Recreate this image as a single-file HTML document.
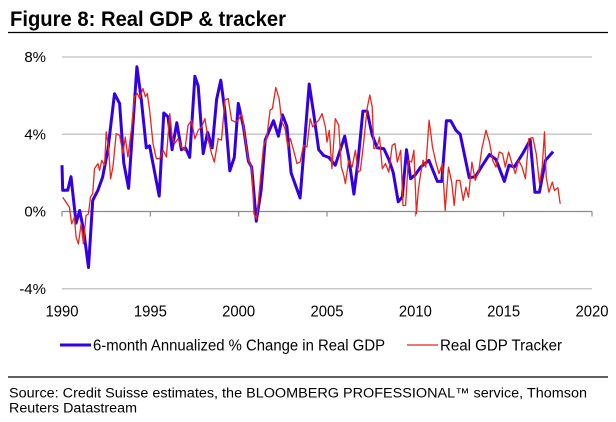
<!DOCTYPE html>
<html><head><meta charset="utf-8"><style>
html,body{margin:0;padding:0;background:#fff;}
svg{display:block;font-family:"Liberation Sans",Arial,sans-serif;}
</style></head><body>
<svg id="chart" width="616" height="422" viewBox="0 0 616 422" xmlns="http://www.w3.org/2000/svg">
<text x="10" y="26" font-size="21" font-weight="bold" textLength="276" lengthAdjust="spacingAndGlyphs">Figure 8: Real GDP &amp; tracker</text>
<line x1="8" y1="32.5" x2="608" y2="32.5" stroke="#000" stroke-width="1.2"/>
<g id="grid"></g>
<g id="yaxis"></g>
<g id="xaxis"></g>
<g id="series"></g>
<g>
<g>
<line x1="60" y1="345" x2="91" y2="345" stroke="#3300e6" stroke-width="3"/>
<text x="93" y="350.5" font-size="15.5" textLength="292" lengthAdjust="spacingAndGlyphs">6-month Annualized % Change in Real GDP</text>
</g>
<g>
<line x1="407" y1="345" x2="438" y2="345" stroke="#e8261c" stroke-width="1.3"/>
<text x="440" y="350.5" font-size="15.5" textLength="122" lengthAdjust="spacingAndGlyphs">Real GDP Tracker</text>
</g>
</g>
<line x1="8" y1="377" x2="608" y2="377" stroke="#000" stroke-width="1.2"/>
<text x="9" y="397.5" font-size="13.5" textLength="578" lengthAdjust="spacingAndGlyphs">Source: Credit Suisse estimates, the BLOOMBERG PROFESSIONAL™ service, Thomson</text>
<text x="9" y="412.5" font-size="13.5" textLength="128" lengthAdjust="spacingAndGlyphs">Reuters Datastream</text>
</svg>
<script>
const yTicks=[8,4,0,-4];
const yTickLabels=["8%","4%","0%","-4%"];
const xTicks=[1990,1995,2000,2005,2010,2015,2020];
const gdpYears=[1990.0,1990.04,1990.32,1990.51,1990.8,1991.0,1991.23,1991.5,1991.74,1992.03,1992.3,1992.6,1992.97,1993.26,1993.5,1993.77,1994.24,1994.49,1994.77,1994.96,1995.5,1995.76,1996.0,1996.23,1996.5,1996.76,1996.99,1997.23,1997.52,1997.71,1997.99,1998.24,1998.5,1998.75,1998.99,1999.22,1999.5,1999.75,1999.98,2000.27,2000.55,2000.74,2001.0,2001.27,2001.5,2001.97,2002.25,2002.48,2002.73,2002.97,2003.48,2003.99,2004.24,2004.53,2004.81,2005.1,2005.47,2006.0,2006.23,2006.52,2006.76,2007.03,2007.27,2007.56,2007.84,2008.22,2008.5,2008.75,2009.03,2009.26,2009.5,2009.73,2010.0,2010.3,2010.77,2011.25,2011.5,2011.76,2012.0,2012.3,2012.54,2013.05,2013.4,2013.8,2014.2,2014.56,2015.04,2015.3,2015.6,2016.08,2016.5,2016.77,2017.02,2017.37,2017.8];
const gdpValues=[2.4,1.1,1.1,1.8,-0.6,0.05,-1.0,-2.9,0.57,1.1,1.77,3.2,6.1,5.6,2.5,1.2,7.5,5.8,3.3,3.4,0.8,5.1,4.9,3.2,4.6,3.2,3.3,2.8,7.0,6.5,3.0,4.1,3.3,5.8,6.8,5.2,2.1,2.8,5.6,4.4,2.6,2.3,-0.5,1.1,3.7,4.7,3.9,5.0,4.4,2.0,0.7,6.6,5.1,3.2,2.9,2.8,2.4,3.9,2.8,0.9,2.65,5.2,5.2,3.95,3.3,3.25,2.7,2.0,0.5,0.75,3.2,1.7,1.9,2.3,2.65,1.56,1.56,4.7,4.7,4.2,4.0,1.75,1.8,2.4,2.95,2.7,1.56,2.4,2.3,3.0,3.7,1.0,1.0,2.65,3.1];
const trackerYears=[1990.04,1990.23,1990.42,1990.55,1990.70,1990.80,1990.93,1991.08,1991.21,1991.36,1991.50,1991.61,1991.74,1991.84,1992.03,1992.12,1992.25,1992.41,1992.50,1992.63,1992.75,1992.88,1993.07,1993.26,1993.45,1993.58,1993.73,1993.92,1994.11,1994.26,1994.39,1994.58,1994.72,1994.83,1994.96,1995.15,1995.34,1995.53,1995.72,1995.91,1996.10,1996.23,1996.38,1996.57,1996.76,1996.95,1997.14,1997.33,1997.52,1997.71,1997.90,1998.09,1998.28,1998.47,1998.62,1998.84,1999.03,1999.22,1999.41,1999.60,1999.79,1999.98,2000.17,2000.36,2000.55,2000.74,2000.87,2001.02,2001.21,2001.40,2001.59,2001.78,2001.91,2002.10,2002.29,2002.44,2002.63,2002.78,2002.92,2003.11,2003.30,2003.48,2003.67,2003.86,2004.05,2004.19,2004.34,2004.53,2004.72,2004.91,2005.0,2005.13,2005.28,2005.47,2005.66,2005.81,2005.95,2006.04,2006.23,2006.42,2006.61,2006.76,2006.89,2007.08,2007.27,2007.42,2007.56,2007.65,2007.84,2007.97,2008.13,2008.31,2008.50,2008.69,2008.85,2008.98,2009.17,2009.30,2009.45,2009.60,2009.79,2009.92,2010.06,2010.17,2010.30,2010.44,2010.59,2010.78,2010.97,2011.16,2011.34,2011.53,2011.69,2011.88,2012.06,2012.20,2012.33,2012.52,2012.71,2012.86,2013.01,2013.20,2013.39,2013.58,2013.77,2014.00,2014.19,2014.38,2014.56,2014.75,2014.94,2015.09,2015.28,2015.47,2015.66,2015.85,2016.04,2016.23,2016.42,2016.65,2016.84,2017.03,2017.18,2017.31,2017.41,2017.56,2017.75,2017.88,2018.07,2018.20];
const trackerValues=[0.74,0.48,0.23,-0.64,-0.29,-1.33,-1.68,-0.64,-1.68,-0.21,-0.12,0.74,0.92,2.22,2.48,2.13,2.65,2.39,4.12,3.34,1.70,2.30,4.03,3.95,3.00,3.86,2.82,4.21,5.94,6.11,5.85,6.37,5.94,6.11,5.25,3.52,2.74,2.74,3.17,2.82,5.07,3.86,3.52,3.77,3.34,3.17,4.47,4.73,3.77,4.21,4.38,4.81,3.69,3.00,2.56,3.77,3.69,5.77,5.85,4.73,4.64,4.73,5.07,3.86,2.65,2.30,-0.12,-0.38,1.44,3.34,3.86,5.25,5.33,6.42,5.85,4.64,4.29,3.34,3.77,3.17,2.48,2.56,3.43,3.34,4.81,4.38,4.55,4.73,5.07,4.38,3.60,4.20,2.22,4.81,4.47,2.30,1.87,1.44,2.65,2.30,3.17,2.04,2.13,3.60,5.33,6.03,5.42,3.26,3.34,3.86,2.22,2.48,2.04,3.43,3.52,2.56,3.17,0.31,0.31,2.65,2.56,3.17,-0.12,1.09,1.96,2.65,2.30,4.73,3.34,2.56,1.96,2.48,0.05,2.30,1.52,0.31,1.61,1.61,0.57,1.26,0.74,2.56,1.61,2.04,3.26,4.21,3.60,2.65,2.30,3.08,3.00,2.30,3.08,2.48,1.96,2.65,2.30,1.70,3.77,3.83,3.00,1.44,2.30,4.12,1.78,1.00,1.52,1.09,1.23,0.40];

const NS="http://www.w3.org/2000/svg";
const X0=62,X1=592,Y8=57,Y0=211.5;
function xs(yr){return X0+(yr-1990)/30*(X1-X0);}
function ys(v){return Y0-(v/8)*(Y0-Y8);}
function mk(tag,attrs,parent){const e=document.createElementNS(NS,tag);for(const k in attrs)e.setAttribute(k,attrs[k]);parent.appendChild(e);return e;}
const grid=document.getElementById('grid'),yax=document.getElementById('yaxis'),xax=document.getElementById('xaxis'),ser=document.getElementById('series');
yTicks.forEach((t,i)=>{
  const g=mk('line',{x1:X0,x2:X1,y1:ys(t),y2:ys(t),stroke:t===0?'#8c8c8c':'#c8c8c8','stroke-width':t===0?1.3:1.5},grid);
  
  
  const lb=mk('text',{x:46,y:ys(t)+5,'font-size':15,'text-anchor':'end'},yax);
  
  
  lb.textContent=yTickLabels[i];
});
xTicks.forEach(t=>{
  const tk=mk('line',{x1:xs(t),x2:xs(t),y1:Y0,y2:Y0+5,stroke:'#8c8c8c','stroke-width':1.2},xax);
  
  
  const lb=mk('text',{x:xs(t),y:316.5,'font-size':15.5,'text-anchor':'middle',textLength:33,lengthAdjust:'spacingAndGlyphs'},xax);
  
  
  lb.textContent=t;
});
function pts(xsArr,vArr){return xsArr.map((y,i)=>xs(y).toFixed(1)+','+ys(vArr[i]).toFixed(1)).join(' ');}
const gl=mk('polyline',{points:pts(gdpYears,gdpValues),fill:'none',stroke:'#3300e6','stroke-width':3,'stroke-linejoin':'round'},ser);


const tl=mk('polyline',{points:pts(trackerYears,trackerValues),fill:'none',stroke:'#e8261c','stroke-width':1.3,'stroke-linejoin':'round'},ser);


</script>
</body></html>
